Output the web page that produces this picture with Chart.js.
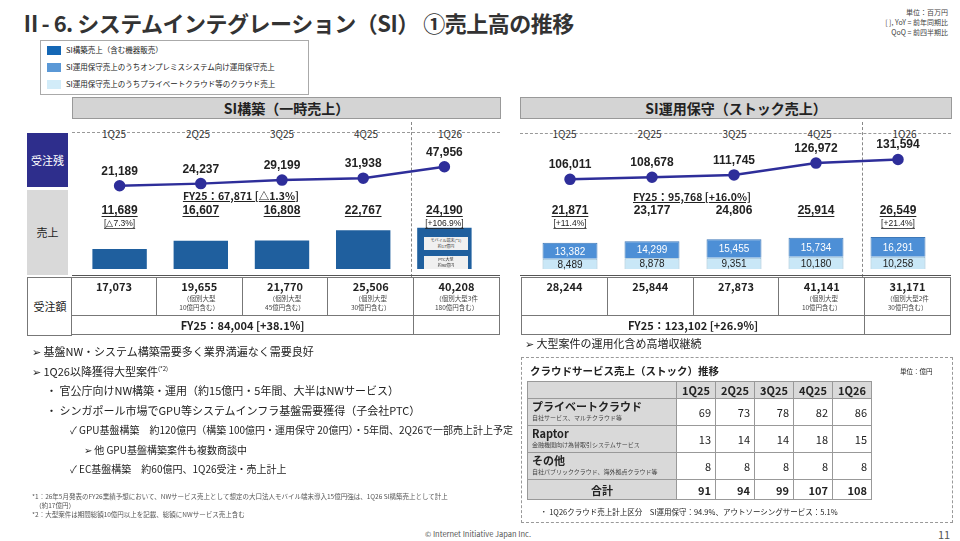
<!DOCTYPE html>
<html><head><meta charset="utf-8">
<script src="https://cdn.jsdelivr.net/npm/chart.js@4"></script>
<style>
body{margin:0;width:960px;height:541px;position:relative;background:#fff;font-family:"Noto Sans CJK JP","Noto Sans",sans-serif;color:#222;overflow:hidden}
.a{position:absolute;white-space:nowrap}
.c{text-align:center}
.hdr{background:#d4d4d4;border:1px solid #999;font-weight:bold;font-size:14px;text-align:center;line-height:20px}
.q{font-size:10px;color:#333;width:84px;text-align:center}
.dh{border-top:1.5px dashed #999;height:0}
.dv{border-left:1.5px dashed #888;width:0}
table{border-collapse:collapse}
.ot td{border:1px solid #777;text-align:center;vertical-align:top;font-size:11px;font-weight:bold;padding:0}
.ot small{display:block;font-size:6.5px;font-weight:normal;color:#444;line-height:9px}
.ct td{border:1px solid #999;font-size:11px;text-align:right;padding:0 4px}
.ct .h{background:#d9d9d9;text-align:center;font-weight:bold}
.ct .l{text-align:left;font-weight:bold;font-size:11px;line-height:12px}
.ct .l small{display:block;font-weight:normal;font-size:6px;color:#444}
</style></head><body>
<div class="a" style="left:20px;top:6px;font-size:22px;font-weight:bold;color:#333;letter-spacing:-0.5px">Ⅱ- 6.  システムインテグレーション（SI） ①売上高の推移</div>
<div class="a" style="right:12px;top:7px;font-size:7px;text-align:right;line-height:10px;color:#444">単位：百万円<br>[ ], YoY = 前年同期比<br>QoQ = 前四半期比</div>
<div class="a" style="left:40px;top:40px;width:267px;height:53px;border:1px solid #aaa;font-size:7.5px;line-height:17px">
 <div style="padding-left:6px"><span style="display:inline-block;width:14px;height:9px;background:#1467b5;vertical-align:middle;margin-right:5px"></span>SI構築売上（含む機器販売）</div>
 <div style="padding-left:6px"><span style="display:inline-block;width:14px;height:9px;background:#5a98d6;vertical-align:middle;margin-right:5px"></span>SI運用保守売上のうちオンプレミスシステム向け運用保守売上</div>
 <div style="padding-left:6px"><span style="display:inline-block;width:14px;height:9px;background:#d2ecf9;vertical-align:middle;margin-right:5px"></span>SI運用保守売上のうちプライベートクラウド等のクラウド売上</div>
</div>

<!-- left panel -->
<div class="a hdr" style="left:72px;top:97px;width:427px;height:20px">SI構築（一時売上）</div>
<div class="a" style="left:27px;top:133px;width:41px;height:54px;background:#2e2e8c;color:#fff;font-size:11px;line-height:54px;text-align:center">受注残</div>
<div class="a" style="left:27px;top:190px;width:41px;height:85px;background:#d9d9d9;font-size:11px;line-height:85px;text-align:center">売上</div>
<div class="a" style="left:27px;top:277px;width:44px;height:57px;border:1px solid #777;border-right:none;font-size:11px;line-height:57px;text-align:center">受注額</div>
<div class="a dh" style="left:72px;top:132px;width:428px"></div>
<div class="a dv" style="left:411px;top:122px;height:155px"></div>
<div class="a" id="lq" style="left:72px;top:119px"></div>
<div class="a" style="left:72px;top:130px;width:420px;height:146px"><canvas id="c1"></canvas></div>
<div class="a" style="left:72px;top:275px;width:428px;border-top:1px solid #555"></div>
<div class="a c" style="left:156px;top:188px;width:170px;font-size:10.5px;font-weight:bold;text-decoration:underline">FY25：67,871 [△1.3%]</div>
<div class="a" style="left:424px;top:237px;width:44px;height:13px;background:#f0f0f0;font-size:4px;line-height:6px;text-align:center;color:#333">モバイル端末(*1)<br>約17億円</div>
<div class="a" style="left:424px;top:256px;width:44px;height:13px;background:#f0f0f0;font-size:4px;line-height:6px;text-align:center;color:#333">PTC大型<br>約90億円</div>
<table class="a ot" style="left:71px;top:277px;width:429px">
<tr style="height:38px" id="lo"></tr>
<tr style="height:19px"><td colspan="4" style="vertical-align:middle">FY25：84,004 [+38.1%]</td><td></td></tr>
</table>

<!-- right panel -->
<div class="a hdr" style="left:520px;top:97px;width:430px;height:20px">SI運用保守（ストック売上）</div>
<div class="a dh" style="left:520px;top:133px;width:431px"></div>
<div class="a dv" style="left:862px;top:122px;height:155px"></div>
<div class="a" id="rq" style="left:522px;top:119px"></div>
<div class="a" style="left:522px;top:130px;width:424px;height:146px"><canvas id="c2"></canvas></div>
<div class="a" style="left:520px;top:275px;width:431px;border-top:1px solid #555"></div>
<div class="a c" style="left:607px;top:189px;width:170px;font-size:10.5px;font-weight:bold;text-decoration:underline">FY25：95,768 [+16.0%]</div>
<table class="a ot" style="left:521px;top:277px;width:430px">
<tr style="height:38px" id="ro"></tr>
<tr style="height:19px"><td colspan="4" style="vertical-align:middle">FY25：123,102 [+26.9%]</td><td></td></tr>
</table>

<!-- bullets -->
<div class="a" style="left:32px;top:342px;font-size:11px;line-height:19.5px;color:#222">
<div>➢ 基盤NW・システム構築需要多く業界満遍なく需要良好</div>
<div>➢ 1Q26以降獲得大型案件<sup style="font-size:6px;line-height:0">(*2)</sup></div>
<div style="padding-left:14px">・ 官公庁向けNW構築・運用（約15億円・5年間、大半はNWサービス）</div>
<div style="padding-left:14px">・ シンガポール市場でGPU等システムインフラ基盤需要獲得（子会社PTC）</div>
<div style="padding-left:38px;font-size:10px">✓ GPU基盤構築　約120億円（構築 100億円・運用保守 20億円）・5年間、2Q26で一部売上計上予定</div>
<div style="padding-left:52px;font-size:10px">➢ 他 GPU基盤構築案件も複数商談中</div>
<div style="padding-left:38px;font-size:10px">✓ EC基盤構築　約60億円、1Q26受注・売上計上</div>
</div>
<div class="a" style="left:32px;top:492px;font-size:6.5px;line-height:9px;color:#555">*1：26年5月発表のFY26業績予想において、NWサービス売上として想定の大口法人モバイル端末導入15億円強は、1Q26 SI構築売上として計上<br>　（約17億円）<br>*2：大型案件は期間総額10億円以上を記載、総額にNWサービス売上含む</div>
<div class="a" style="left:425px;top:528px;font-size:7.5px;color:#555">© Internet Initiative Japan Inc.</div>
<div class="a" style="left:938px;top:526px;font-size:11px;color:#555">11</div>

<div class="a" style="left:525px;top:335px;font-size:11px">➢ 大型案件の運用化含め高増収継続</div>
<div class="a" style="left:521px;top:357px;width:430px;height:164px;border:1.5px dashed #999"></div>
<div class="a" style="left:530px;top:363px;font-size:10.5px;font-weight:bold">クラウドサービス売上（ストック）推移</div>
<div class="a" style="left:900px;top:366px;font-size:6.5px">単位：億円</div>
<table class="a ct" style="left:527px;top:381px;width:345px" id="ct"></table>
<div class="a" style="left:540px;top:506px;font-size:7.5px">・ 1Q26クラウド売上計上区分　SI運用保守：94.9%、アウトソーシングサービス：5.1%</div>

<script>
const quarters = ['1Q25', '2Q25', '3Q25', '4Q25', '1Q26'];
// SI構築
const siBacklog = [21189, 24237, 29199, 31938, 47956];
const siSales = [11689, 16607, 16808, 22767, 24190];
const siSalesYoY = ['[△7.3%]', '', '', '', '[+106.9%]'];
const siSalesUnderline = [true, true, true, true, true];
const siOrders = [17073, 19655, 21770, 25506, 40208];
const siOrdersNote = ['', '（個別大型<br>10億円含む）', '（個別大型<br>45億円含む）', '（個別大型<br>30億円含む）', '（個別大型3件<br>180億円含む）'];
// SI運用保守
const opBacklog = [106011, 108678, 111745, 126972, 131594];
const opCloud = [8489, 8878, 9351, 10180, 10258];
const opOnprem = [13382, 14299, 15455, 15734, 16291];
const opTotal = [21871, 23177, 24806, 25914, 26549];
const opYoY = ['[+11.4%]', '', '', '', '[+21.4%]'];
const opUnderline = [true, false, false, true, true];
const opOrders = [28244, 25844, 27873, 41141, 31171];
const opOrdersNote = ['', '', '', '（個別大型<br>10億円含む）', '（個別大型2件<br>30億円含む）'];
// クラウド表
const cloudRows = ['プライベートクラウド', 'Raptor', 'その他'];
const cloudSub = ['自社サービス、マルチクラウド等', '金融機関向け為替取引システムサービス', '自社パブリッククラウド、海外拠点クラウド等'];
const cloudPrivate = [69, 73, 78, 82, 86];
const cloudRaptor = [13, 14, 14, 18, 15];
const cloudOther = [8, 8, 8, 8, 8];
const cloudSum = [91, 94, 99, 107, 108];

const fmt = v => v.toLocaleString('en-US');
document.getElementById('lq').innerHTML = quarters.map(q => `<span class="q" style="display:inline-block">${q}</span>`).join('');
document.getElementById('rq').innerHTML = quarters.map(q => `<span class="q" style="display:inline-block;width:85px">${q}</span>`).join('');
document.getElementById('lo').innerHTML = siOrders.map((v, i) => `<td style="width:${i==0?84:85}px">${fmt(v)}<small>${siOrdersNote[i]}</small></td>`).join('');
document.getElementById('ro').innerHTML = opOrders.map((v, i) => `<td style="width:85px">${fmt(v)}<small>${opOrdersNote[i]}</small></td>`).join('');
let ct = '<tr><td class="h" style="width:140px"></td>' + quarters.map(q => `<td class="h">${q}</td>`).join('') + '</tr>';
[cloudPrivate, cloudRaptor, cloudOther].forEach((r, i) => {
    ct += `<tr style="height:27px"><td class="h l" style="background:#d9d9d9">${cloudRows[i]}<small>${cloudSub[i]}</small></td>` + r.map(v => `<td>${v}</td>`).join('') + '</tr>';
});
ct += '<tr style="height:20px"><td class="h">合計</td>' + cloudSum.map(v => `<td style="font-weight:bold">${v}</td>`).join('') + '</tr>';
document.getElementById('ct').innerHTML = ct;

const labelPlugin = {
    id: 'labels',
    afterDatasetsDraw(chart, args, opts) {
        const c = chart.ctx, x = chart.scales.x;
        c.save();
        c.textAlign = 'center';
        c.fillStyle = '#222';
        const lineMeta = chart.getDatasetMeta(opts.lineIndex);
        lineMeta.data.forEach((p, i) => {
            c.font = 'bold 12px "Liberation Sans", Arial';
            c.fillText(fmt(opts.line[i]), p.x, p.y - 11);
        });
        opts.top.forEach((v, i) => {
            const px = x.getPixelForValue(i);
            c.font = 'bold 12px "Liberation Sans", Arial';
            c.fillStyle = '#222';
            c.fillText(fmt(v), px, 84);
            if (opts.under[i]) {
                const w = c.measureText(fmt(v)).width;
                c.fillRect(px - w / 2, 86, w, 1);
            }
            if (opts.yoy[i]) {
                c.font = '8.5px "Liberation Sans", Arial';
                c.fillText(opts.yoy[i], px, 96);
                const w = c.measureText(opts.yoy[i]).width;
                c.fillRect(px - w / 2, 98, w, 0.8);
            }
        });
        if (opts.inner) {
            chart.data.datasets.forEach((ds, di) => {
                if (ds.type === 'line') return;
                chart.getDatasetMeta(di).data.forEach((b, i) => {
                    c.font = '10px "Liberation Sans", Arial';
                    c.fillStyle = di === 1 ? '#fff' : '#222';
                    c.textBaseline = 'middle';
                    c.fillText(fmt(ds.data[i]), b.x, (b.y + b.base) / 2 + 1);
                });
            });
        }
        c.restore();
    }
};

const common = (yMax, y2Min, y2Max) => ({
    responsive: true, maintainAspectRatio: false, animation: false,
    layout: { padding: 0 },
    plugins: { legend: { display: false }, tooltip: { enabled: false } },
    scales: {
        x: { display: false, stacked: true },
        y: { display: false, stacked: true, min: 0, max: yMax },
        y2: { display: false, min: y2Min, max: y2Max }
    }
});

const o1 = common(77600, -96000, 89900);
o1.plugins.labels = { lineIndex: 1, line: siBacklog, top: siSales, yoy: siSalesYoY, under: siSalesUnderline };
new Chart(document.getElementById('c1'), {
    data: {
        labels: quarters,
        datasets: [
            { type: 'bar', data: siSales, backgroundColor: '#1f5f9e', barPercentage: 0.67, categoryPercentage: 1 },
            { type: 'line', data: siBacklog, yAxisID: 'y2', borderColor: '#2e2e9a', backgroundColor: '#2e2e9a', borderWidth: 2.5, pointRadius: 4.5 }
        ]
    },
    options: o1,
    plugins: [labelPlugin]
});

const o2 = common(109800, -9300, 160500);
o2.plugins.labels = { lineIndex: 2, line: opBacklog, top: opTotal, yoy: opYoY, under: opUnderline, inner: true };
new Chart(document.getElementById('c2'), {
    data: {
        labels: quarters,
        datasets: [
            { type: 'bar', data: opCloud, backgroundColor: '#c9e7f7', borderColor: '#8fb8d0', borderWidth: 1, barPercentage: 0.67, categoryPercentage: 1 },
            { type: 'bar', data: opOnprem, backgroundColor: '#4d8fd6', borderColor: '#3d78b8', borderWidth: 1, barPercentage: 0.67, categoryPercentage: 1 },
            { type: 'line', data: opBacklog, yAxisID: 'y2', borderColor: '#2e2e9a', backgroundColor: '#2e2e9a', borderWidth: 2.5, pointRadius: 4.5 }
        ]
    },
    options: o2,
    plugins: [labelPlugin]
});
</script>
</body></html>
